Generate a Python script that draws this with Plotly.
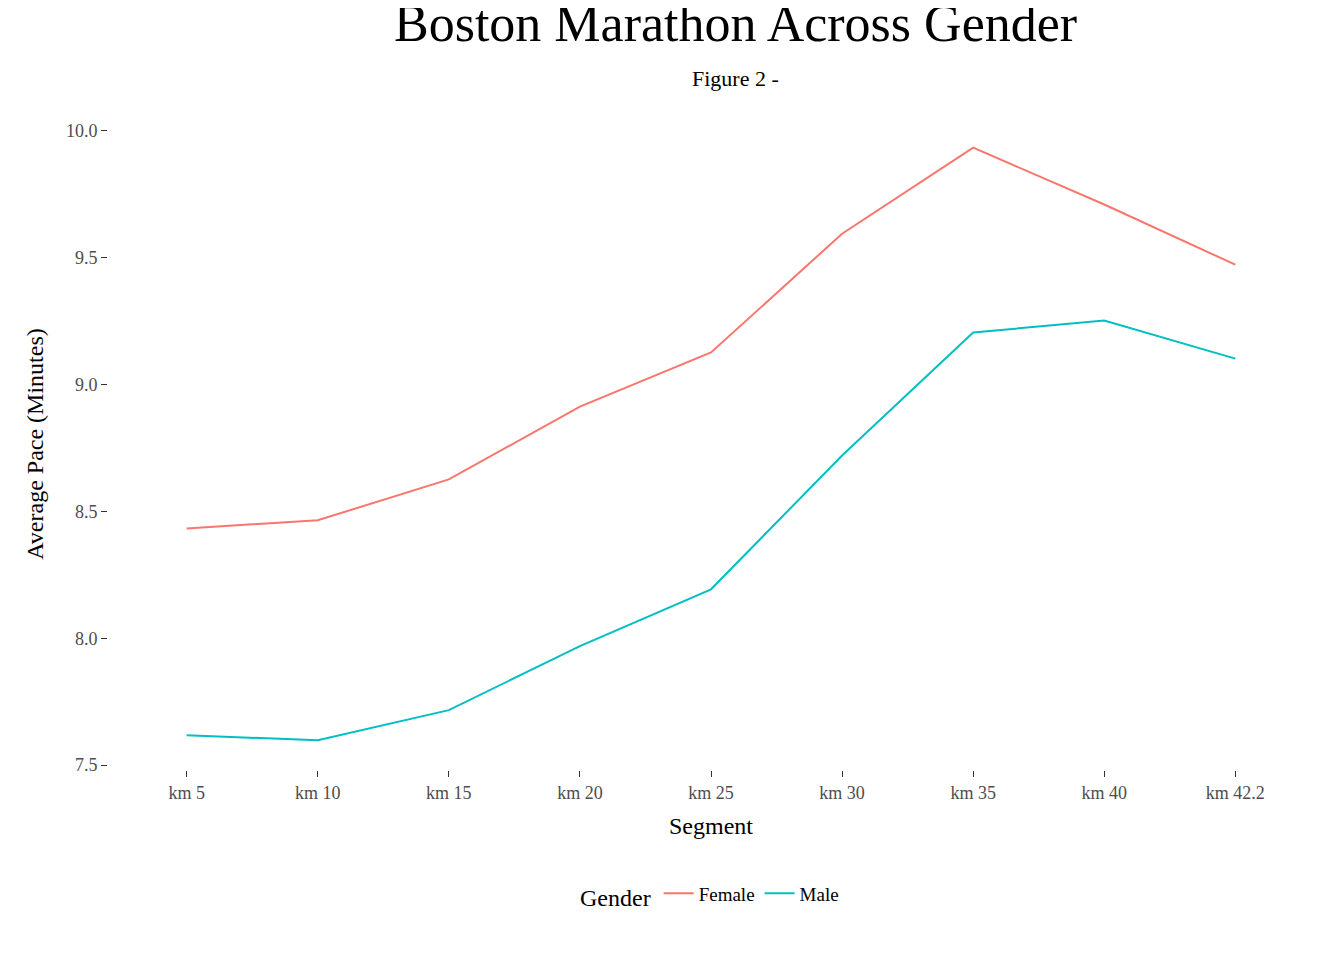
import plotly.graph_objects as go

segments = ["km 5", "km 10", "km 15", "km 20", "km 25", "km 30", "km 35", "km 40", "km 42.2"]
female = [8.433, 8.465, 8.626, 8.913, 9.126, 9.594, 9.933, 9.709, 9.472]
male = [7.618, 7.598, 7.717, 7.969, 8.193, 8.720, 9.205, 9.252, 9.102]

font = "Liberation Serif"

fig = go.Figure()
fig.add_trace(go.Scatter(x=segments, y=female, mode="lines", name="Female",
                         line=dict(color="#F8766D", width=2)))
fig.add_trace(go.Scatter(x=segments, y=male, mode="lines", name="Male",
                         line=dict(color="#00BFC4", width=2)))

fig.add_annotation(text="Boston Marathon Across Gender", xref="paper", yref="paper",
                   x=0.52, y=1.0, yshift=95, xanchor="center", yanchor="middle",
                   showarrow=False, font=dict(size=52, family=font))
fig.add_annotation(text="Figure 2 -", xref="paper", yref="paper",
                   x=0.52, y=1.0, yshift=40, xanchor="center", yanchor="middle",
                   showarrow=False, font=dict(size=22, family=font))

fig.update_layout(
    width=1344, height=960,
    plot_bgcolor="white", paper_bgcolor="white",
    font=dict(family=font, color="black"),
    margin=dict(l=100, r=38, t=110, b=198),
    xaxis=dict(title=dict(text="Segment", font=dict(size=24)),
               range=[-0.6, 8.6], showgrid=False, zeroline=False,
               ticks="outside", ticklen=6, tickcolor="#333",
               tickfont=dict(size=18, color="#4d4d4d")),
    yaxis=dict(title=dict(text="Average Pace (Minutes)", font=dict(size=24)),
               range=[7.481, 10.05], showgrid=False, zeroline=False,
               tickvals=[7.5, 8.0, 8.5, 9.0, 9.5, 10.0],
               ticktext=["7.5", "8.0", "8.5", "9.0", "9.5", "10.0"],
               ticks="outside", ticklen=6, tickcolor="#333",
               tickfont=dict(size=18, color="#4d4d4d")),
    legend=dict(orientation="h", x=0.5, xanchor="center", y=-0.16, yanchor="top",
                title=dict(text="Gender", font=dict(size=24)),
                font=dict(size=19)),
)

fig.write_html("out.html")
